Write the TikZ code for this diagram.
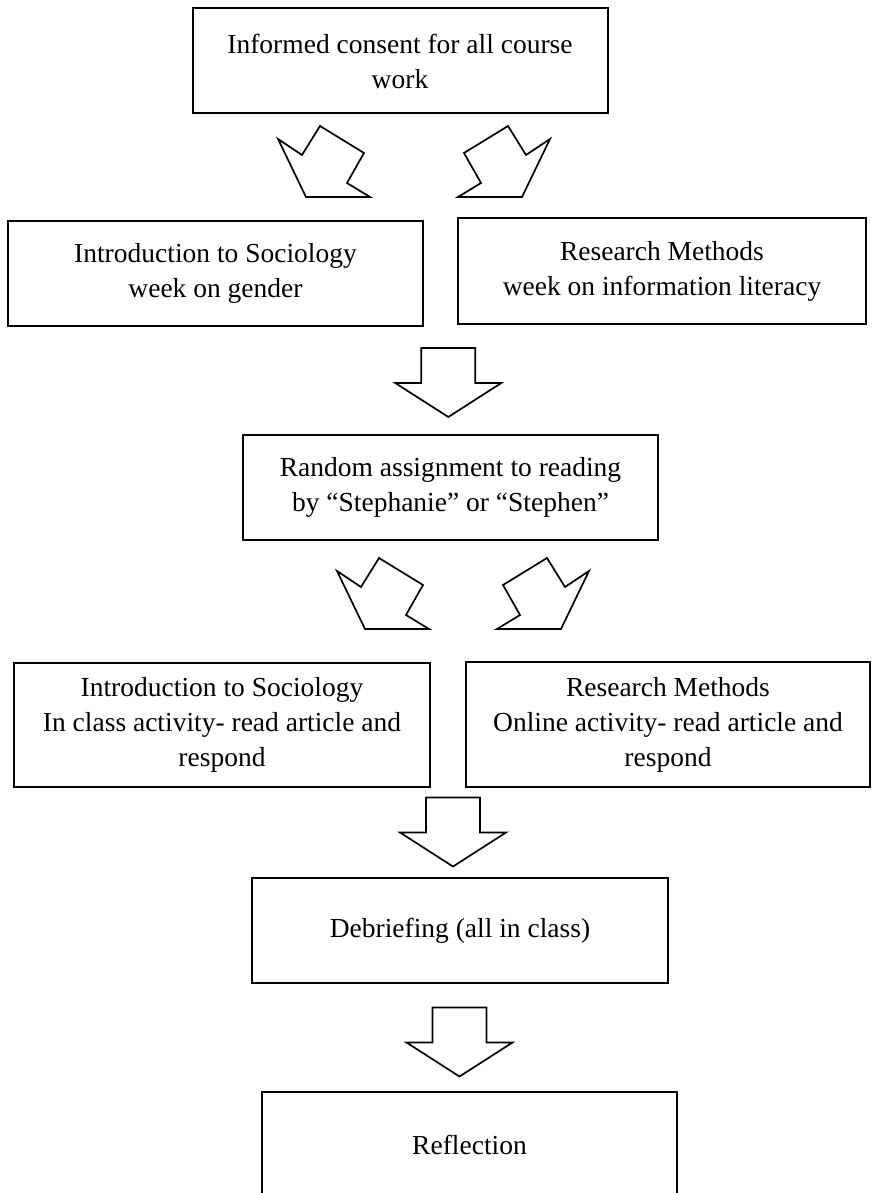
\documentclass[tikz,border=0pt]{standalone}
\usepackage{fontspec}
\setmainfont{Liberation Serif}
\begin{document}
\begin{tikzpicture}[x=1pt,y=-1pt,
  box/.style={draw=black, line width=2pt, fill=white, align=center, inner sep=0pt,
    font=\fontsize{27.5}{35}\selectfont},
  blk/.style={draw=black, line width=1.7pt, fill=white, line join=miter},
  downblk/.pic={\draw[blk] (-27,0) -- (27,0) -- (27,35) -- (53,35) -- (0,69) -- (-53,35) -- (-27,35) -- cycle;},
  leftblk/.pic={\draw[blk] (0,0) -- (-28,-58) -- (-4,-42) -- (14,-71) -- (58,-44) -- (41,-14) -- (64,0) -- cycle;},
  rightblk/.pic={\draw[blk] (0,0) -- (28,-58) -- (4,-42) -- (-14,-71) -- (-58,-44) -- (-41,-14) -- (-64,0) -- cycle;}]
\useasboundingbox (0,0) rectangle (874,1193);
\fill[white] (0,0) rectangle (874,1193);

% boxes
\node[box, minimum width=415pt, minimum height=105pt] (consent) at (400,61)
  {Informed consent for all course\\work};
\node[box, minimum width=415pt, minimum height=105pt] (introA) at (215.5,273.5)
  {Introduction to Sociology\\week on gender};
\node[box, minimum width=408pt, minimum height=106pt] (methA) at (662,271)
  {Research Methods\\week on information literacy};
\node[box, minimum width=415pt, minimum height=105pt] (random) at (450.5,487.5)
  {Random assignment to reading\\by “Stephanie” or “Stephen”};
\node[box, minimum width=416pt, minimum height=124pt] (introB) at (222,725)
  {Introduction to Sociology\\In class activity- read article and\\respond};
\node[box, minimum width=404pt, minimum height=125pt] (methB) at (668,724.5)
  {Research Methods\\Online activity- read article and\\respond};
\node[box, minimum width=416pt, minimum height=105pt] (debrief) at (460,930.5)
  {Debriefing (all in class)};
\node[box, minimum width=415pt, minimum height=106pt] (reflect) at (469.5,1145)
  {Reflection};

% block arrows
\coordinate (t1L) at (306,197);
\coordinate (t1R) at (522,197);
\coordinate (d1) at (448.3,348);
\coordinate (t2L) at (365,629);
\coordinate (t2R) at (561,629);
\coordinate (d2) at (453,797.5);
\coordinate (d3) at (459.5,1007.5);

\pic at (t1L) {leftblk};
\pic at (t1R) {rightblk};
\pic at (d1) {downblk};
\pic at (t2L) {leftblk};
\pic at (t2R) {rightblk};
\pic at (d2) {downblk};
\pic at (d3) {downblk};
\end{tikzpicture}
\end{document}
